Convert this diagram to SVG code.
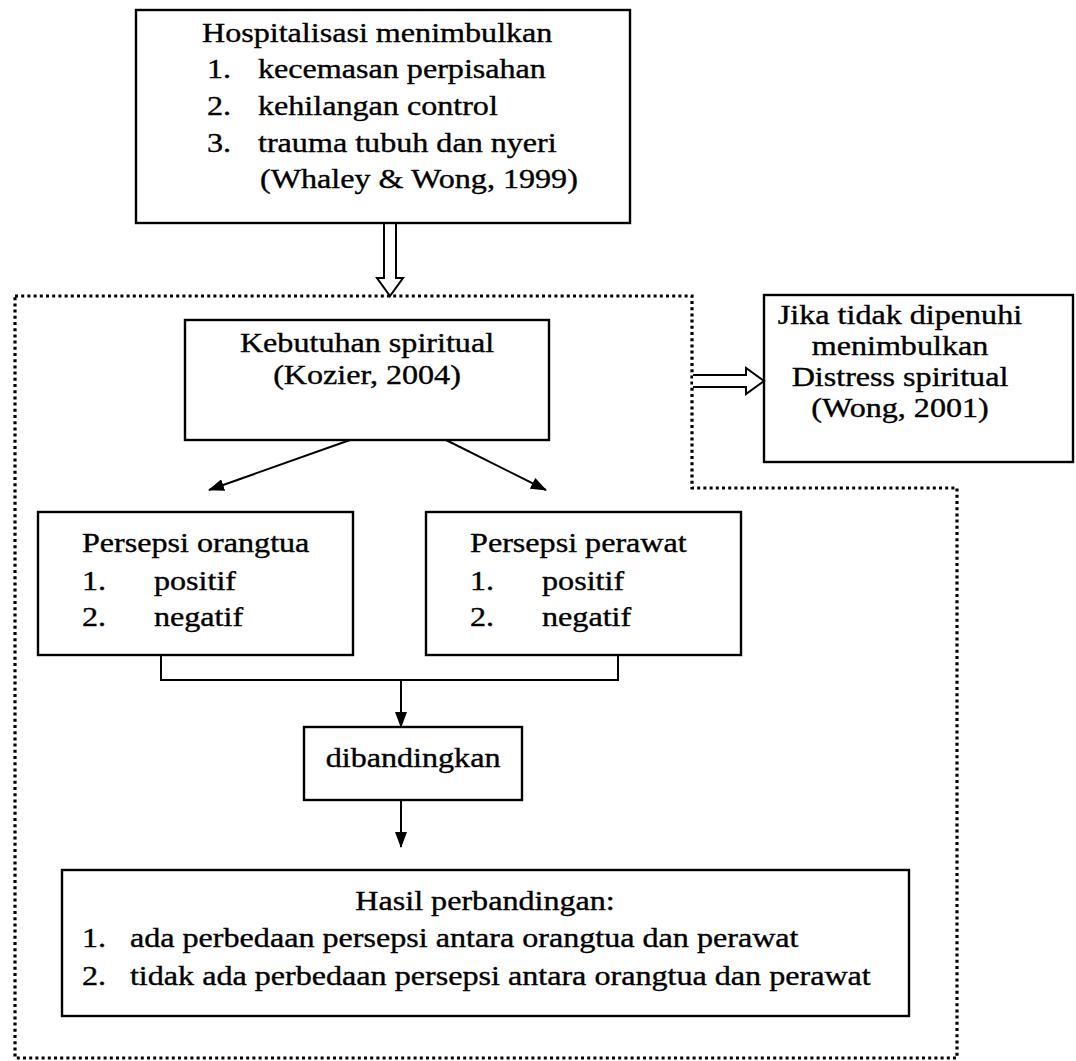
<svg xmlns="http://www.w3.org/2000/svg" width="1076" height="1061" viewBox="0 0 1076 1061">
<style>
.box{fill:none;stroke:#000;stroke-width:2.4}
text{font-family:'Liberation Serif','Times New Roman',Times,serif;font-size:27px;fill:#000;stroke:#000;stroke-width:0.35}
.c{text-anchor:middle}
.ln{fill:none;stroke:#000;stroke-width:2}
.dot{fill:none;stroke:#000;stroke-width:3.2;stroke-dasharray:3 3.2}
.hollow{fill:#fff;stroke:#000;stroke-width:2;stroke-linejoin:miter}
</style>
<defs>
<marker id="ah" markerWidth="16" markerHeight="12" refX="15" refY="6" orient="auto" markerUnits="userSpaceOnUse">
<path d="M0,0 L16,6 L0,12 Z" fill="#000"/>
</marker>
</defs>
<rect width="1076" height="1061" fill="#fff"/>

<g id="scope">
<path class="dot" d="M15,296 H692 V488 H957 V1058 H15 Z"/>
</g>

<g id="connectors">
<path class="hollow" d="M384,224 L384,278 L377,278 L390,296 L403,278 L396,278 L396,224"/>
<path class="hollow" d="M693,375 L746,375 L746,368 L764,381 L746,394 L746,387 L693,387"/>
<line class="ln" x1="350" y1="440" x2="209" y2="490" marker-end="url(#ah)"/>
<line class="ln" x1="446" y1="440" x2="546" y2="490" marker-end="url(#ah)"/>
<path class="ln" d="M161,655 V680 H618 V655"/>
<line class="ln" x1="401" y1="680" x2="401" y2="727" marker-end="url(#ah)"/>
<line class="ln" x1="401" y1="800" x2="401" y2="847" marker-end="url(#ah)"/>
</g>

<g id="hospitalisasi">
<rect class="box" x="136" y="10" width="494" height="213"/>
<g transform="scale(1.19,1)">
<text x="169.7" y="42">Hospitalisasi menimbulkan</text>
<text x="174" y="78">1.</text>
<text x="216.8" y="78">kecemasan perpisahan</text>
<text x="174" y="115">2.</text>
<text x="216.8" y="115">kehilangan control</text>
<text x="174" y="152">3.</text>
<text x="216.8" y="152">trauma tubuh dan nyeri</text>
<text x="218.5" y="188">(Whaley &amp; Wong, 1999)</text>
</g>
</g>

<g id="kebutuhan">
<rect class="box" x="185" y="320" width="364" height="120"/>
<g transform="scale(1.19,1)">
<text class="c" x="308.4" y="352">Kebutuhan spiritual</text>
<text class="c" x="308.4" y="384">(Kozier, 2004)</text>
</g>
</g>

<g id="distress">
<rect class="box" x="764" y="295" width="309" height="167"/>
<g transform="scale(1.19,1)">
<text class="c" x="756.3" y="324">Jika tidak dipenuhi</text>
<text class="c" x="756.3" y="355">menimbulkan</text>
<text class="c" x="756.3" y="386">Distress spiritual</text>
<text class="c" x="756.3" y="417">(Wong, 2001)</text>
</g>
</g>

<g id="persepsi-orangtua">
<rect class="box" x="38" y="512" width="315" height="143"/>
<g transform="scale(1.19,1)">
<text x="68.9" y="552">Persepsi orangtua</text>
<text x="68.9" y="590">1.</text>
<text x="129.4" y="590">positif</text>
<text x="68.9" y="626">2.</text>
<text x="129.4" y="626">negatif</text>
</g>
</g>

<g id="persepsi-perawat">
<rect class="box" x="426" y="512" width="315" height="143"/>
<g transform="scale(1.19,1)">
<text x="395" y="552">Persepsi perawat</text>
<text x="395" y="590">1.</text>
<text x="455.5" y="590">positif</text>
<text x="395" y="626">2.</text>
<text x="455.5" y="626">negatif</text>
</g>
</g>

<g id="dibandingkan">
<rect class="box" x="304" y="727" width="218" height="73"/>
<g transform="scale(1.19,1)">
<text class="c" x="347.1" y="767">dibandingkan</text>
</g>
</g>

<g id="hasil">
<rect class="box" x="62" y="870" width="847" height="146"/>
<g transform="scale(1.19,1)">
<text class="c" x="407.6" y="910">Hasil perbandingan:</text>
<text x="68.9" y="947">1.</text>
<text x="109.2" y="947">ada perbedaan persepsi antara orangtua dan perawat</text>
<text x="68.9" y="985">2.</text>
<text x="109.2" y="985">tidak ada perbedaan persepsi antara orangtua dan perawat</text>
</g>
</g>
</svg>
